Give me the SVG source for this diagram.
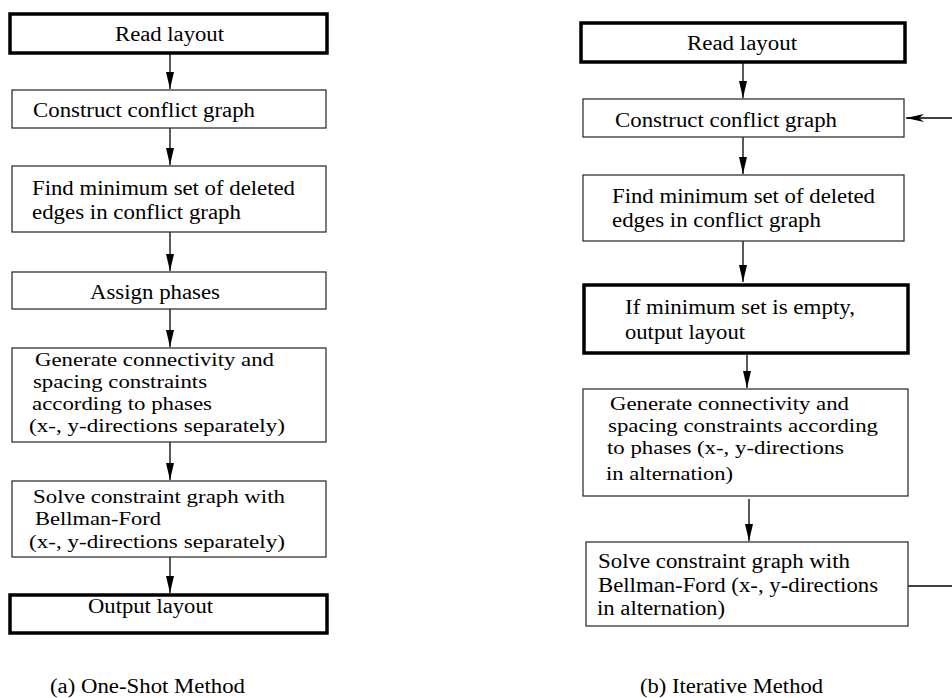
<svg xmlns="http://www.w3.org/2000/svg" width="952" height="698" viewBox="0 0 952 698">
<style>
  .box { fill: #ffffff; stroke: #333333; stroke-width: 1.3; }
  .thick { fill: #ffffff; stroke: #000000; stroke-width: 3.5; }
  .t { font-family: "Liberation Serif", "Times New Roman", serif; font-size: 20px; fill: #000000; }
  .s { font-size: 19px; }
  .edge { stroke: #000000; stroke-width: 1.3; fill: none; }
</style>
<defs>
  <marker id="ah" markerUnits="userSpaceOnUse" markerWidth="18" markerHeight="10" refX="17" refY="4" orient="auto">
    <path d="M0,0 L17,4 L0,8 z" fill="#000000"/>
  </marker>
  <marker id="ah2" markerUnits="userSpaceOnUse" markerWidth="20" markerHeight="10" refX="18" refY="4" orient="auto">
    <path d="M0,0 L18,4 L0,8 L5,4 z" fill="#000000"/>
  </marker>
</defs>
<rect width="952" height="698" fill="#ffffff"/>

<g id="connectors">
  <line class="edge" x1="170" y1="54" x2="170" y2="89" marker-end="url(#ah)"/>
  <line class="edge" x1="170" y1="128" x2="170" y2="165" marker-end="url(#ah)"/>
  <line class="edge" x1="170" y1="232" x2="170" y2="271" marker-end="url(#ah)"/>
  <line class="edge" x1="170" y1="309" x2="170" y2="347" marker-end="url(#ah)"/>
  <line class="edge" x1="170" y1="442" x2="170" y2="480" marker-end="url(#ah)"/>
  <line class="edge" x1="170" y1="557" x2="170" y2="593" marker-end="url(#ah)"/>

  <line class="edge" x1="743" y1="62" x2="743" y2="98" marker-end="url(#ah)"/>
  <line class="edge" x1="743" y1="137" x2="743" y2="174" marker-end="url(#ah)"/>
  <line class="edge" x1="743" y1="241" x2="743" y2="282" marker-end="url(#ah)"/>
  <line class="edge" x1="747" y1="355" x2="747" y2="388" marker-end="url(#ah)"/>
  <line class="edge" x1="749" y1="499" x2="749" y2="541" marker-end="url(#ah)"/>

  <line class="edge" x1="908" y1="586" x2="952" y2="586"/>
  <line class="edge" x1="952" y1="118" x2="906" y2="118" marker-end="url(#ah2)"/>
</g>

<g id="a_read">
  <rect class="thick" x="10" y="14" width="317" height="39"/>
  <text class="t" x="115" y="41" textLength="109" lengthAdjust="spacingAndGlyphs">Read layout</text>
</g>
<g id="a_construct">
  <rect class="box" x="12" y="90" width="314" height="38"/>
  <text class="t" x="33" y="117" textLength="222" lengthAdjust="spacingAndGlyphs">Construct conflict graph</text>
</g>
<g id="a_find">
  <rect class="box" x="12" y="166" width="314" height="66"/>
  <text class="t" x="32" y="195" textLength="263" lengthAdjust="spacingAndGlyphs">Find minimum set of deleted</text>
  <text class="t" x="32" y="219" textLength="209" lengthAdjust="spacingAndGlyphs">edges in conflict graph</text>
</g>
<g id="a_assign">
  <rect class="box" x="12" y="272" width="314" height="37"/>
  <text class="t" x="90" y="299" textLength="130" lengthAdjust="spacingAndGlyphs">Assign phases</text>
</g>
<g id="a_generate">
  <rect class="box" x="12" y="348" width="314" height="94"/>
  <text class="t s" x="35" y="366" textLength="239" lengthAdjust="spacingAndGlyphs">Generate connectivity and</text>
  <text class="t s" x="33" y="388" textLength="174" lengthAdjust="spacingAndGlyphs">spacing constraints</text>
  <text class="t s" x="32" y="410" textLength="180" lengthAdjust="spacingAndGlyphs">according to phases</text>
  <text class="t s" x="29" y="432" textLength="256" lengthAdjust="spacingAndGlyphs">(x-, y-directions separately)</text>
</g>
<g id="a_solve">
  <rect class="box" x="12" y="481" width="314" height="76"/>
  <text class="t s" x="33" y="503" textLength="252" lengthAdjust="spacingAndGlyphs">Solve constraint graph with</text>
  <text class="t s" x="35" y="525" textLength="126" lengthAdjust="spacingAndGlyphs">Bellman-Ford</text>
  <text class="t s" x="29" y="548" textLength="256" lengthAdjust="spacingAndGlyphs">(x-, y-directions separately)</text>
</g>
<g id="a_output">
  <rect class="thick" x="10" y="595" width="317" height="38"/>
  <text class="t" x="88" y="613" textLength="125" lengthAdjust="spacingAndGlyphs">Output layout</text>
</g>
<g id="a_caption">
  <text class="t" x="50" y="693" textLength="195" lengthAdjust="spacingAndGlyphs">(a) One-Shot Method</text>
</g>

<g id="b_read">
  <rect class="thick" x="581" y="23" width="324" height="39"/>
  <text class="t" x="687" y="50" textLength="110" lengthAdjust="spacingAndGlyphs">Read layout</text>
</g>
<g id="b_construct">
  <rect class="box" x="583" y="99" width="321" height="38"/>
  <text class="t" x="615" y="127" textLength="222" lengthAdjust="spacingAndGlyphs">Construct conflict graph</text>
</g>
<g id="b_find">
  <rect class="box" x="583" y="175" width="321" height="66"/>
  <text class="t" x="612" y="203" textLength="263" lengthAdjust="spacingAndGlyphs">Find minimum set of deleted</text>
  <text class="t" x="612" y="227" textLength="209" lengthAdjust="spacingAndGlyphs">edges in conflict graph</text>
</g>
<g id="b_if">
  <rect class="thick" x="584" y="285" width="324" height="68"/>
  <text class="t" x="625" y="314" textLength="230" lengthAdjust="spacingAndGlyphs">If minimum set is empty,</text>
  <text class="t" x="625" y="339" textLength="120" lengthAdjust="spacingAndGlyphs">output layout</text>
</g>
<g id="b_generate">
  <rect class="box" x="583" y="389" width="325" height="107"/>
  <text class="t s" x="610" y="410" textLength="239" lengthAdjust="spacingAndGlyphs">Generate connectivity and</text>
  <text class="t s" x="608" y="432" textLength="270" lengthAdjust="spacingAndGlyphs">spacing constraints according</text>
  <text class="t s" x="607" y="454" textLength="237" lengthAdjust="spacingAndGlyphs">to phases (x-, y-directions</text>
  <text class="t s" x="606" y="480" textLength="127" lengthAdjust="spacingAndGlyphs">in alternation)</text>
</g>
<g id="b_solve">
  <rect class="box" x="586" y="542" width="322" height="84"/>
  <text class="t" x="598" y="568" textLength="252" lengthAdjust="spacingAndGlyphs">Solve constraint graph with</text>
  <text class="t" x="598" y="592" textLength="280" lengthAdjust="spacingAndGlyphs">Bellman-Ford (x-, y-directions</text>
  <text class="t" x="597" y="615" textLength="128" lengthAdjust="spacingAndGlyphs">in alternation)</text>
</g>
<g id="b_caption">
  <text class="t" x="640" y="693" textLength="183" lengthAdjust="spacingAndGlyphs">(b) Iterative Method</text>
</g>
</svg>
